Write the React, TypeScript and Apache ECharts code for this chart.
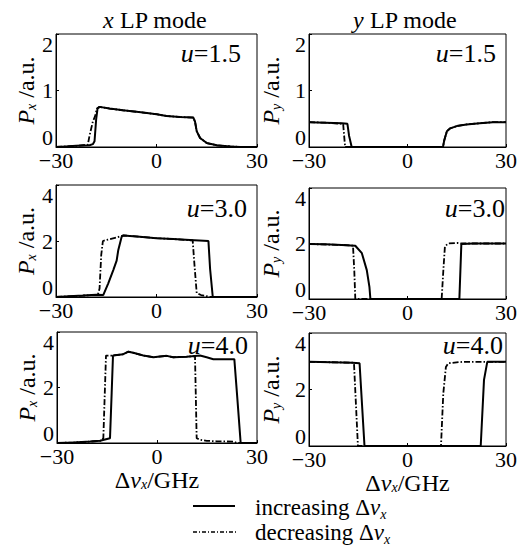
import { useEffect, useRef } from "react";
import * as echarts from "echarts";

// ---- data: [Δν_x (GHz), P (a.u.)] ----
const xIncU15 = [[-30,0],[-27,0.01],[-24,0.02],[-20,0.03],[-19,0.05],[-18.5,0.1],[-18,0.5],[-17.6,0.68],[-17,0.71],[-14,0.68],[-10,0.65],[-4,0.61],[0,0.58],[3,0.55],[7,0.53],[11,0.52],[11.5,0.45],[12,0.28],[13,0.16],[15,0.07],[18,0.03],[22,0.01],[25,0],[30,0]];
const xDecU15 = [[-30,0],[-24,0.02],[-20.5,0.04],[-20,0.2],[-19,0.45],[-18.3,0.55],[-17.8,0.68],[-17,0.71],[-14,0.68],[-10,0.65],[-4,0.61],[0,0.58],[3,0.55],[7,0.53],[11,0.52],[11.5,0.45],[12,0.28],[13,0.16],[15,0.07],[18,0.03],[22,0.01],[25,0],[30,0]];
const yIncU15 = [[-30,0.44],[-25,0.43],[-20,0.42],[-18.3,0.41],[-17.8,0.2],[-17,0],[10.8,0],[11.2,0.12],[12,0.28],[13,0.33],[15,0.37],[18,0.4],[22,0.42],[26,0.44],[30,0.44]];
const yDecU15 = [[-30,0.44],[-25,0.43],[-19.6,0.41],[-19.3,0.2],[-19,0],[10.8,0],[11.2,0.12],[12,0.28],[13,0.33],[15,0.37],[18,0.4],[22,0.42],[26,0.44],[30,0.44]];

const xIncU30 = [[-30,0],[-26,0.03],[-22,0.05],[-18,0.08],[-15.9,0.07],[-14.4,0.49],[-12.9,0.96],[-11.9,1.3],[-11.4,1.68],[-10.4,2.15],[-9.9,2.2],[-5,2.15],[0,2.1],[5,2.07],[10,2.04],[15.5,2.0],[16,1.0],[16.8,0],[30,0]];
const xDecU30 = [[-30,0],[-22,0.05],[-17.5,0.08],[-17,0.3],[-16.5,1.5],[-16,2.0],[-14.5,2.05],[-12,2.12],[-9.9,2.2],[-5,2.15],[0,2.1],[5,2.07],[10.8,2.02],[11.3,1.2],[12,0.14],[13.3,0.07],[15,0.03],[16,0],[30,0]];
const yIncU30 = [[-30,1.98],[-25,1.97],[-20,1.95],[-15.9,1.92],[-13.9,1.65],[-12.4,1.04],[-11.6,0.44],[-11.3,0],[15.8,0],[16.4,1.98],[20,2.0],[25,2.0],[30,2.0]];
const yDecU30 = [[-30,1.98],[-20,1.95],[-16.6,1.92],[-16.2,1.0],[-15.9,0],[10.4,0],[10.9,1.0],[11.4,1.9],[12.4,2.0],[15.3,2.02],[16.4,2.0],[30,2.0]];

const xIncU40 = [[-30,0],[-25,0.02],[-20.1,0.05],[-17.1,0.08],[-14.1,0.17],[-13.6,1.8],[-13.2,3.15],[-10.1,3.2],[-8.6,3.29],[-7.1,3.25],[-4.1,3.15],[-1.1,3.09],[2.9,3.14],[4.9,3.09],[8.9,3.11],[12.9,3.15],[14.9,3.09],[16.9,3.02],[23.2,3.02],[24.1,1.61],[25.1,0],[30,0]];
const xDecU40 = [[-30,0],[-25,0.02],[-20.1,0.05],[-17,0.08],[-16.1,0.17],[-15.3,3.15],[-13.2,3.15],[-10.1,3.2],[-8.6,3.29],[-7.1,3.25],[-4.1,3.15],[-1.1,3.09],[2.9,3.14],[4.9,3.09],[8.9,3.11],[11.4,3.13],[11.9,0.17],[12.9,0.12],[14.9,0.08],[17.9,0.06],[22.9,0.05],[24,0],[30,0]];
const yIncU40 = [[-30,2.98],[-16.8,2.95],[-14.6,2.93],[-13.1,0],[22.3,0],[23.3,2.34],[24.3,2.98],[30,2.98]];
const yDecU40 = [[-30,2.98],[-16.8,2.95],[-16.3,2.93],[-15.1,0],[10.2,0],[10.9,1.86],[11.7,2.8],[12.4,2.93],[16.8,2.98],[30,2.98]];

const uValues = ["1.5", "3.0", "4.0"];
const colTitles = ["x", "y"];
const legendLabels = ["increasing ", "decreasing "];

const FONT = "'Liberation Serif', 'Times New Roman', serif";

const panels = [
  { inc: xIncU15, dec: xDecU15, yMax: 2, yInt: 1, u: uValues[0], pol: "x" },
  { inc: yIncU15, dec: yDecU15, yMax: 2, yInt: 1, u: uValues[0], pol: "y" },
  { inc: xIncU30, dec: xDecU30, yMax: 4, yInt: 2, u: uValues[1], pol: "x" },
  { inc: yIncU30, dec: yDecU30, yMax: 4, yInt: 2, u: uValues[1], pol: "y" },
  { inc: xIncU40, dec: xDecU40, yMax: 4, yInt: 2, u: uValues[2], pol: "x" },
  { inc: yIncU40, dec: yDecU40, yMax: 4, yInt: 2, u: uValues[2], pol: "y" },
];

const grids = [
  { left: 56, top: 34, width: 201, height: 113 },
  { left: 309, top: 34, width: 202, height: 113 },
  { left: 56, top: 185, width: 201, height: 112 },
  { left: 309, top: 188, width: 202, height: 111 },
  { left: 57, top: 332, width: 200, height: 111 },
  { left: 309, top: 333, width: 202, height: 113 },
];

const uLabelPos = [
  [241, 53], [496, 53], [247, 208], [505, 208], [248, 345], [503, 345],
];

const mkRich = (size: number, sub: number, pad: number) => ({
  i: { fontFamily: FONT, fontSize: size, fontStyle: "italic", color: "#000" },
  n: { fontFamily: FONT, fontSize: size, color: "#000" },
  s: { fontFamily: FONT, fontSize: sub, fontStyle: "italic", color: "#000", verticalAlign: "bottom", padding: [pad, 0, 0, 0] },
});

const axisNameRich = mkRich(24, 14, 10);
const titleRich = mkRich(24, 14, 8);
const uRich = mkRich(26, 14, 8);
const legendRich = mkRich(23, 14, 14);

export default function App() {
  const ref = useRef<HTMLDivElement>(null);
  useEffect(() => {
    if (!ref.current) return;
    const chart = echarts.init(ref.current, null, { renderer: "svg" });
    const xAxis: any[] = [];
    const yAxis: any[] = [];
    const series: any[] = [];
    panels.forEach((p, i) => {
      const bottomRow = i >= 4;
      xAxis.push({
        type: "value",
        gridIndex: i,
        min: -30,
        max: 30,
        interval: 30,
        axisLine: { show: true, onZero: false, lineStyle: { color: "#000", width: 1 } },
        axisTick: { show: true, inside: true, length: 3, lineStyle: { color: "#000" } },
        splitLine: { show: false },
        axisLabel: {
          fontFamily: FONT,
          fontSize: 22,
          color: "#000",
          margin: 2,
          formatter: (v: number) => (v < 0 ? "\u2212" + Math.abs(v) : String(v)),
        },
        name: bottomRow ? "{n|\u0394}{i|\u03bd}{s|x}{n|/GHz}" : "",
        nameLocation: "middle",
        nameGap: 24,
        nameTextStyle: { fontFamily: FONT, fontSize: 24, color: "#000", rich: axisNameRich },
      });
      yAxis.push({
        type: "value",
        gridIndex: i,
        min: 0,
        max: p.yMax,
        interval: p.yInt,
        axisLine: { show: true, onZero: false, lineStyle: { color: "#000", width: 1 } },
        axisTick: { show: true, inside: true, length: 3, lineStyle: { color: "#000" } },
        splitLine: { show: false },
        axisLabel: {
          fontFamily: FONT,
          fontSize: 22,
          color: "#000",
          margin: 3,
          lineHeight: 20,
          verticalAlignMinLabel: "bottom",
          verticalAlignMaxLabel: "top",
        },
        name: "{i|P}{s|" + p.pol + "}{n| /a.u.}",
        nameLocation: "middle",
        nameRotate: 90,
        nameGap: i % 2 === 0 ? 17 : 26,
        nameTextStyle: { fontFamily: FONT, fontSize: 24, color: "#000", rich: axisNameRich },
      });
      series.push({
        type: "line",
        xAxisIndex: i,
        yAxisIndex: i,
        data: p.dec,
        showSymbol: false,
        symbol: "none",
        lineStyle: { color: "#000", width: 1.8, type: [6, 2, 1.5, 2] },
      });
      series.push({
        type: "line",
        xAxisIndex: i,
        yAxisIndex: i,
        data: p.inc,
        showSymbol: false,
        symbol: "none",
        lineStyle: { color: "#000", width: 2 },
      });
    });

    const graphics: any[] = [];
    panels.forEach((p, i) => {
      graphics.push({
        type: "text",
        x: uLabelPos[i][0],
        y: uLabelPos[i][1],
        style: {
          text: "{i|u}{n|=" + p.u + "}",
          rich: uRich,
          align: "right",
          verticalAlign: "middle",
        },
      });
    });
    [155, 405].forEach((cx, k) => {
      graphics.push({
        type: "text",
        x: cx,
        y: 20,
        style: {
          text: "{i|" + colTitles[k] + "}{n| LP mode}",
          rich: titleRich,
          align: "center",
          verticalAlign: "middle",
        },
      });
    });
    // legend
    graphics.push({ type: "line", shape: { x1: 193, y1: 506, x2: 235, y2: 506 }, style: { stroke: "#000", lineWidth: 2 } });
    graphics.push({ type: "line", shape: { x1: 193, y1: 532, x2: 237, y2: 532 }, style: { stroke: "#000", lineWidth: 1.5, lineDash: [4, 2, 1, 2] } });
    legendLabels.forEach((t, k) => {
      graphics.push({
        type: "text",
        x: 255,
        y: 507 + k * 25,
        style: {
          text: "{n|" + t + "\u0394}{i|\u03bd}{s|x}",
          rich: legendRich,
          align: "left",
          verticalAlign: "middle",
        },
      });
    });

    chart.setOption({
      animation: false,
      backgroundColor: "#fff",
      grid: grids.map((g) => ({ ...g, show: true, borderColor: "#000", borderWidth: 1, backgroundColor: "transparent" })),
      xAxis,
      yAxis,
      series,
      graphic: graphics,
    });
    return () => chart.dispose();
  }, []);
  return (
    <div
      ref={ref}
      style={{ position: "fixed", left: 0, top: 0, width: 520, height: 545, background: "#fff" }}
    />
  );
}
